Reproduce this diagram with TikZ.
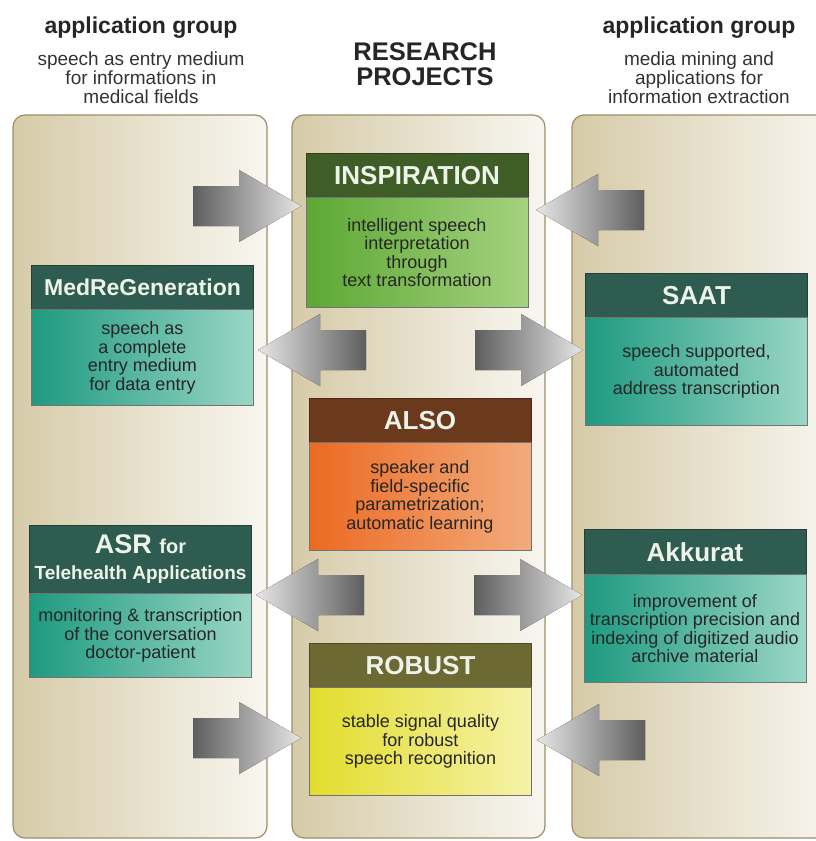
\documentclass[tikz,border=0pt]{standalone}
\usepackage{fontspec}
\setmainfont{Liberation Sans}
\usetikzlibrary{positioning}

\definecolor{colleft}{HTML}{D6CBA8}
\definecolor{colright}{HTML}{F8F6F0}
\definecolor{colline}{HTML}{9C8E66}
\definecolor{arrdark}{HTML}{5E5E5E}
\definecolor{arrlight}{HTML}{E6E6E6}
\definecolor{hdteal}{HTML}{2F5C50}
\definecolor{tealL}{HTML}{1E9A80}
\definecolor{tealR}{HTML}{9AD6C6}
\definecolor{hdgreen}{HTML}{3F5E27}
\definecolor{greenL}{HTML}{5CA834}
\definecolor{greenR}{HTML}{A5D27F}
\definecolor{hdbrown}{HTML}{6B3A1D}
\definecolor{orangeL}{HTML}{EC6A22}
\definecolor{orangeR}{HTML}{F2AB7C}
\definecolor{hdolive}{HTML}{6D6933}
\definecolor{yellowL}{HTML}{E2DD2C}
\definecolor{yellowR}{HTML}{F6F2A8}
\definecolor{hdtext}{HTML}{EEF3EA}

\begin{document}
\begin{tikzpicture}[x=1pt,y=-1pt]
        \tikzset{grouptitle/.style={font=\bfseries\fontsize{23}{23}\selectfont,anchor=base,text=black!85},
            groupsub/.style={font=\fontsize{19}{19.2}\selectfont,align=center,anchor=north,inner sep=0pt,text=black!80},
            column/.style={draw=colline,line width=1.2pt,rounded corners=12pt,left color=colleft,right color=colright},
            hdr/.style={draw=#1!70!black,fill=#1,text=hdtext,anchor=north,inner sep=0pt,
                minimum width=222pt,minimum height=44pt,align=center,font=\bfseries\fontsize{26}{26}\selectfont},
            bodybox/.style 2 args={draw=black!55,left color=#1,right color=#2,minimum width=222pt,inner sep=0pt,
                align=center,text=black!85,font=\fontsize{18}{18.5}\selectfont},
            pics/rarrow/.style={code={
                \fill[left color=arrdark,right color=arrlight]
                    (0,-20) -- (46,-20) -- (46,-36) -- (108,0) -- (46,36) -- (46,20) -- (0,20) -- cycle;}},
            pics/larrow/.style={code={
                \fill[left color=arrlight,right color=arrdark]
                    (0,-20) -- (-46,-20) -- (-46,-36) -- (-108,0) -- (-46,36) -- (-46,20) -- (0,20) -- cycle;}}}
        \useasboundingbox (0,0) rectangle (816,841);
        \clip (0,0) rectangle (816,841);

        % headings
        \node[grouptitle] (lgrp) at (141,33.5) {application group};
        \node[groupsub] (lsub) at (141,51.5) {speech as entry medium\\for informations in\\medical fields};
        \node[grouptitle,font=\bfseries\fontsize{25.5}{25}\selectfont,align=center,anchor=north,inner sep=0pt]
            (research) at (425,42) {RESEARCH\\PROJECTS};
        \node[grouptitle] (rgrp) at (699,33.5) {application group};
        \node[groupsub] (rsub) at (699,51.5) {media mining and\\applications for\\information extraction};

        % the three columns
        \path[column] (13,115) rectangle (267,838);
        \path[column] (292,115) rectangle (545,838);
        \path[column] (572,115) rectangle (840,838);

        % arrows
        \pic at (193,206) {rarrow};
        \pic at (644,210) {larrow};
        \pic at (366,350) {larrow};
        \pic at (475,350) {rarrow};
        \pic at (364,595) {larrow};
        \pic at (474,595) {rarrow};
        \pic at (193,738) {rarrow};
        \pic at (645,740) {larrow};

        % research projects
        \node[hdr=hdgreen] (insphd) at (417,153) {INSPIRATION};
        \node[bodybox={greenL}{greenR},minimum height=110pt,below=0pt of insphd] (insp)
            {intelligent speech\\interpretation\\through\\text transformation};
        \node[hdr=hdbrown] (alsohd) at (420,398) {ALSO};
        \node[bodybox={orangeL}{orangeR},minimum height=108pt,below=0pt of alsohd] (also)
            {speaker and\\field-specific\\parametrization;\\automatic learning};
        \node[hdr=hdolive] (robhd) at (420.5,643) {ROBUST};
        \node[bodybox={yellowL}{yellowR},minimum height=108pt,below=0pt of robhd] (robust)
            {stable signal quality\\for robust\\speech recognition};

        % application group, medical
        \node[hdr=hdteal,font=\bfseries\fontsize{23}{23}\selectfont] (medhd) at (142.5,265) {MedReGeneration};
        \node[bodybox={tealL}{tealR},minimum height=96pt,below=0pt of medhd] (med)
            {speech as\\a complete\\entry medium\\for data entry};
        \node[hdr=hdteal,minimum height=68pt] (asrhd) at (140.5,525)
            {{\fontsize{27}{27}\selectfont ASR {\fontsize{20}{20}\selectfont for}}\\{\fontsize{19}{22}\selectfont Telehealth Applications}};
        \node[bodybox={tealL}{tealR},minimum height=84pt,below=0pt of asrhd] (asr)
            {monitoring \& transcription\\of the conversation\\doctor-patient};

        % application group, media mining
        \node[hdr=hdteal] (saathd) at (696.5,273) {SAAT};
        \node[bodybox={tealL}{tealR},minimum height=108pt,below=0pt of saathd] (saat)
            {speech supported,\\automated\\address transcription};
        \node[hdr=hdteal,minimum height=45pt] (akkhd) at (695,529) {Akkurat};
        \node[bodybox={tealL}{tealR},minimum height=108pt,below=0pt of akkhd] (akk)
            {improvement of\\transcription precision and\\indexing of digitized audio\\archive material};
    \end{tikzpicture}
\end{document}
